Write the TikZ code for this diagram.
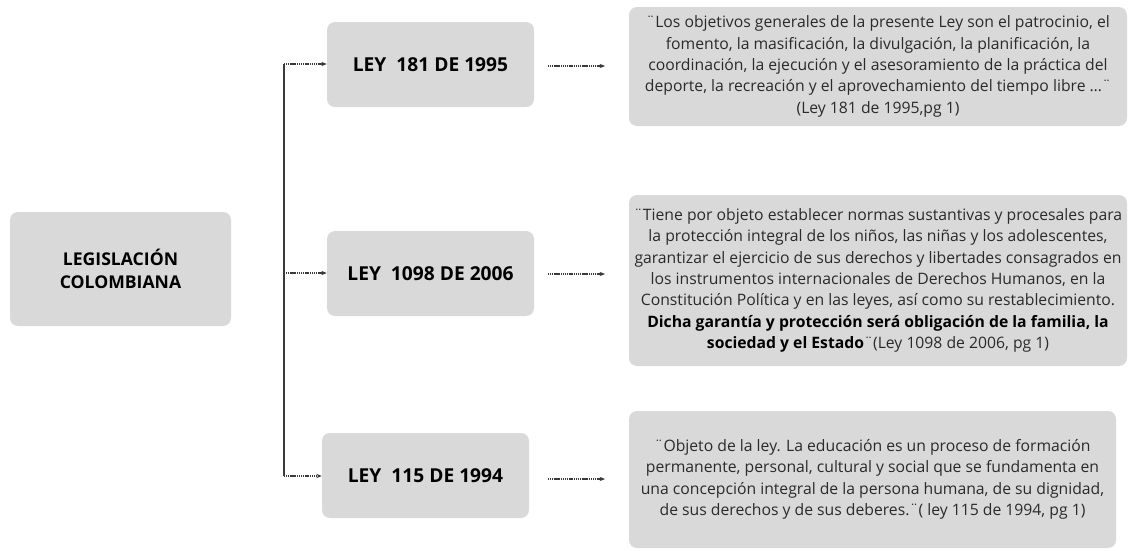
\documentclass[tikz,border=0pt]{standalone}
\usepackage{fontspec}
\setmainfont{Open Sans}
\usetikzlibrary{arrows.meta}
\definecolor{boxgray}{HTML}{D9D9D9}
\definecolor{txt}{HTML}{2A2A2A}
\definecolor{linegray}{HTML}{3A3A3A}
\tikzset{
  box/.style={fill=boxgray, rounded corners=6pt, inner sep=0pt, align=center, text=txt},
  title/.style={box, font=\fontsize{13.2pt}{17pt}\selectfont\bfseries, text=black},
  ley/.style={box, font=\fontsize{14.4pt}{17pt}\selectfont\bfseries, text=black,
              minimum width=155.25pt, minimum height=63.75pt},
  quote/.style={box, font=\fontsize{11.8pt}{16pt}\selectfont},
  trunk/.style={draw=linegray, line width=0.9pt},
  dotarrow/.style={draw=linegray, line width=0.8pt, dash pattern=on 0.9pt off 0.5pt,
                   -{Stealth[length=4pt,width=3.2pt]}},
}
\begin{document}
\begin{tikzpicture}[x=0.75pt,y=-0.75pt]
\path[use as bounding box] (0,0) rectangle (1128,550);

\node[title, minimum width=165.75pt, minimum height=85.5pt] (leg) at (120.5,269) {LEGISLACIÓN\\COLOMBIANA};

\node[ley] (l181)  at (430.5,64.5)  {LEY\ \ 181 DE 1995};
\node[ley] (l1098) at (430.5,273.5) {LEY\ \ 1098 DE 2006};
\node[ley] (l115)  at (425.5,475.5) {LEY\ \ 115 DE 1994};

\node[quote, minimum width=373.5pt, minimum height=89.25pt] (q1) at (878,66.5)
 {¨Los objetivos generales de la presente Ley son el patrocinio, el\\
  fomento, la masificación, la divulgación, la planificación, la\\
  coordinación, la ejecución y el asesoramiento de la práctica del\\
  deporte, la recreación y el aprovechamiento del tiempo libre …¨\\
  (Ley 181 de 1995,pg 1)};

\node[quote, minimum width=373.5pt, minimum height=128.25pt] (q2) at (878,280.5)
 {¨Tiene por objeto establecer normas sustantivas y procesales para\\
  la protección integral de los niños, las niñas y los adolescentes,\\
  garantizar el ejercicio de sus derechos y libertades consagrados en\\
  los instrumentos internacionales de Derechos Humanos, en la\\
  Constitución Política y en las leyes, así como su restablecimiento.\\
  {\bfseries\color{black}Dicha garantía y protección será obligación de la familia, la}\\
  {\bfseries\color{black}sociedad y el Estado}¨(Ley 1098 de 2006, pg 1)};

\node[quote, minimum width=365.25pt, minimum height=102.75pt] (q3) at (872.5,479.5)
 {¨Objeto de la ley. La educación es un proceso de formación\\
  permanente, personal, cultural y social que se fundamenta en\\
  una concepción integral de la persona humana, de su dignidad,\\
  de sus derechos y de sus deberes.¨( ley 115 de 1994, pg 1)};

\coordinate (t1) at (284,64);
\coordinate (t2) at (284,273);
\coordinate (t3) at (284,476);
\draw[trunk] (t1) -- (t3);
\draw[dotarrow] (t1) -- (t1 -| l181.west);
\draw[dotarrow] (t2) -- (t2 -| l1098.west);
\draw[dotarrow] (t3) -- (t3 -| l115.west);

\coordinate (a1s) at (548,66);  \coordinate (a1e) at (605,66);
\coordinate (a2s) at (548,274); \coordinate (a2e) at (605,274);
\coordinate (a3s) at (548,479); \coordinate (a3e) at (605,479);
\draw[dotarrow] (a1s) -- (a1e);
\draw[dotarrow] (a2s) -- (a2e);
\draw[dotarrow] (a3s) -- (a3e);
\end{tikzpicture}
\end{document}
